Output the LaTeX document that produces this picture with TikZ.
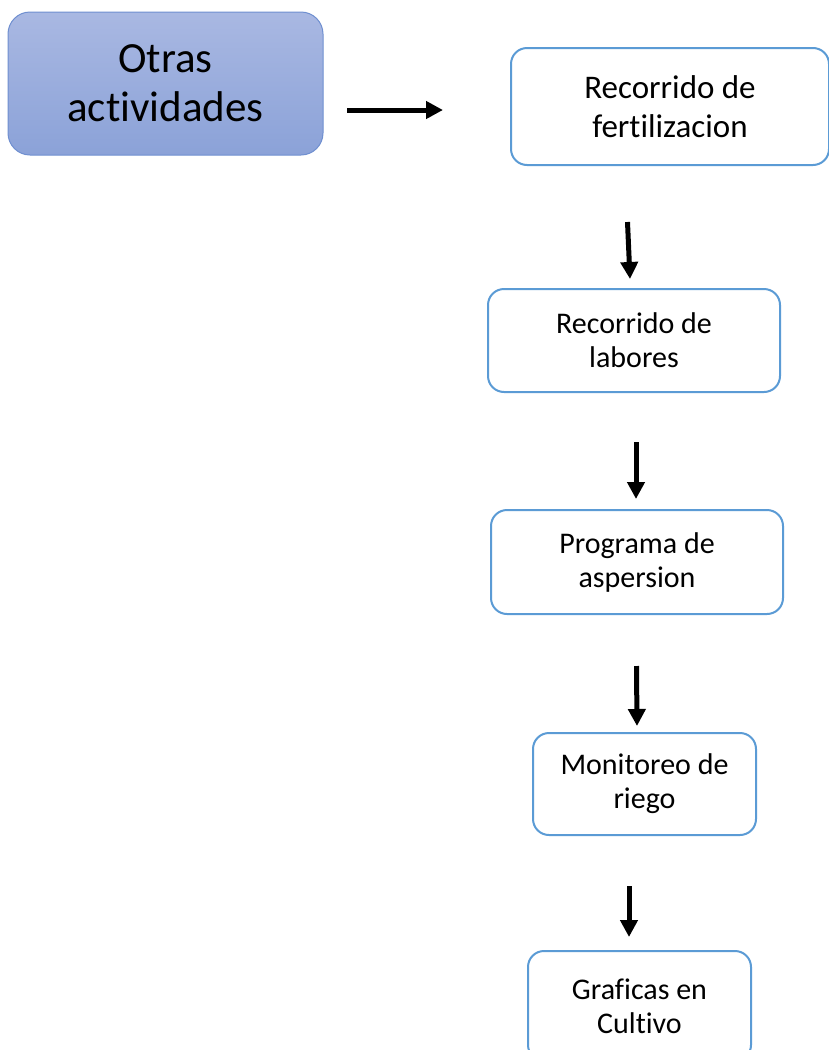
\documentclass[tikz,border=0pt]{standalone}
\usepackage{fontspec}
\setmainfont{Carlito}[Ligatures=NoCommon]
\usetikzlibrary{arrows.meta}

\definecolor{boxline}{HTML}{5B9BD5}
\definecolor{otrastop}{HTML}{A9B8E2}
\definecolor{otrasbot}{HTML}{8BA2D8}
\definecolor{otrasline}{HTML}{6F8FD0}

\begin{document}
\begin{tikzpicture}[x=1pt,y=-1pt,
-{Triangle[length=17pt,width=17pt]},line width=5pt,
main node/.style={draw=boxline,line width=2pt,rounded corners=16pt,fill=white,align=center,
  inner sep=0pt,font=\fontsize{30}{34}\selectfont},
big node/.style={draw=otrasline,line width=1pt,rounded corners=22pt,top color=otrastop,
  bottom color=otrasbot,align=center,inner sep=0pt,font=\fontsize{43}{49}\selectfont}]

\useasboundingbox (0,0) rectangle (828,1050);

\node[big node,minimum width=315pt,minimum height=143pt] (otras) at (165.5,83.5) {Otras\\actividades};
\node[main node,minimum width=318pt,minimum height=117pt,font=\fontsize{33}{39}\selectfont] (fert) at (670,106.5) {Recorrido de\\fertilizacion};
\node[main node,minimum width=292pt,minimum height=103pt] (labores) at (634,340.5) {Recorrido de\\labores};
\node[main node,minimum width=292pt,minimum height=104pt] (asper) at (637,562) {Programa de\\aspersion};
\node[main node,minimum width=223pt,minimum height=102pt] (riego) at (644.5,784) {Monitoreo de\\riego};
\node[main node,minimum width=223pt,minimum height=110pt] (graf) at (639.5,1006) {Graficas en\\Cultivo};

% free-standing arrows
\coordinate (a0) at (347,110);   \coordinate (a1) at (443,110);
\coordinate (b0) at (627.5,222); \coordinate (b1) at (630,279);
\coordinate (c0) at (636,442);   \coordinate (c1) at (636,499);
\coordinate (d0) at (636.5,666); \coordinate (d1) at (637,726);
\coordinate (e0) at (629,886);   \coordinate (e1) at (629,937);

\draw (a0) -- (a1);
\draw (b0) -- (b1);
\draw (c0) -- (c1);
\draw (d0) -- (d1);
\draw (e0) -- (e1);
\end{tikzpicture}
\end{document}
